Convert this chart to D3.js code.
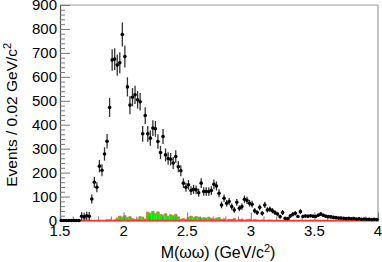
<!DOCTYPE html>
<html>
<head>
<meta charset="utf-8">
<script src="https://cdn.jsdelivr.net/npm/d3@7"></script>
<style>
  body { margin: 0; background: #fff; }
  svg { display: block; font-family: "Liberation Sans", Arial, sans-serif; }
</style>
</head>
<body>
<div id="chart"></div>
<script>
var width = 382, height = 262;
var padLeft = 60, padRight = 378, padTop = 5, padBottom = 220.5;

// bin centres: 1.51 .. 3.99 in steps of 0.02 (125 bins)
var binLow = 1.5, binWidth = 0.02;

// events per bin
var counts = [
  0, 0, 0, 0, 0, 0, 0, 0, 18, 15,
  20, 18, 90, 160, 139, 227, 210, 278, 331, 472,
  670, 674, 649, 659, 777, 685, 558, 482, 515, 525,
  504, 496, 362, 438, 362, 344, 386, 383, 330, 284,
  351, 274, 259, 256, 240, 267, 225, 208, 156, 139,
  149, 125, 130, 128, 116, 156, 121, 121, 121, 125,
  151, 144, 114, 65, 93, 72, 79, 58, 44, 76,
  51, 58, 89, 84, 72, 68, 41, 33, 55, 30,
  65, 44, 47, 41, 33, 27, 16, 33, 9, 8,
  19, 26, 30, 17, 37, 17, 19, 18, 20, 18,
  17, 22, 27, 22, 18, 16, 15, 13, 12, 10,
  10, 9, 8, 9, 7, 8, 6, 7, 5, 6,
  5, 5, 4, 5, 4
];

// error bar half-lengths
var errors = [
  0, 0, 0, 0, 0, 0, 0, 0, 17, 17,
  17, 17, 19, 23, 21, 26, 25, 28, 30, 40,
  45, 45, 44, 44, 50, 46, 40, 38, 38, 38,
  37, 37, 33, 35, 33, 32, 33, 33, 30, 28,
  31, 27, 26, 26, 25, 26, 24, 23, 20, 19,
  20, 18, 19, 18, 17, 20, 18, 18, 18, 18,
  20, 19, 17, 14, 16, 14, 15, 13, 12, 14,
  12, 13, 15, 15, 14, 14, 11, 10, 12, 10,
  13, 11, 11, 11, 10, 9, 8, 10, 6, 6,
  8, 9, 9, 7, 10, 7, 7, 7, 7, 7,
  7, 7, 8, 7, 7, 6, 6, 6, 6, 5,
  5, 5, 5, 5, 4, 5, 4, 4, 4, 4,
  4, 4, 3, 4, 3
];

// sideband background (green histogram)
var sideband = [
  0, 0, 0, 0, 0, 0, 0, 0, 0, 0,
  0, 0, 0, 0, 0, 0, 0, 0, 3, 3,
  0, 2, 10, 18, 14, 20, 12, 16, 8, 4,
  5, 16, 14, 6, 35, 30, 38, 28, 36, 25,
  22, 28, 18, 24, 20, 26, 15, 5, 8, 4,
  14, 18, 12, 16, 14, 10, 12, 10, 14, 8,
  6, 10, 12, 4, 7, 0, 5, 3, 8, 0,
  4, 6, 0, 3, 5, 0, 3, 2, 0, 2,
  0, 0, 2, 0, 0, 0, 0, 0, 0, 0,
  0, 0, 0, 0, 0, 0, 0, 0, 0, 0,
  0, 0, 0, 0, 0, 0, 0, 0, 0, 0,
  0, 0, 0, 0, 0, 0, 0, 0, 0, 0,
  0, 0, 0, 0, 0
];

var xTicks = [1.5, 2, 2.5, 3, 3.5, 4];
var yTicks = [0, 100, 200, 300, 400, 500, 600, 700, 800, 900];

var x = d3.scaleLinear().domain([1.5, 4]).range([padLeft, padRight]);
var y = d3.scaleLinear().domain([0, 900]).range([padBottom, padTop]);

var svg = d3.select("#chart").append("svg")
  .attr("width", width)
  .attr("height", height);

var data = counts.map(function(c, i){
  return {
    lo: binLow + i*binWidth,
    m: binLow + (i+0.5)*binWidth,
    v: c,
    e: errors[i],
    b: sideband[i]
  };
});

// green sideband histogram
svg.append("g").selectAll("rect")
  .data(data.filter(function(d){ return d.b > 0; }))
  .enter()
  .append("rect")
  .attr("x", function(d){ return x(d.lo); })
  .attr("width", function(d){ return x(d.lo + binWidth) - x(d.lo); })
  .attr("y", function(d){ return y(d.b); })
  .attr("height", function(d){ return y(0) - y(d.b); })
  .attr("fill", "#00ee00");

var step = d3.line()
  .x(function(d){ return x(d.m); })
  .y(function(d){ return y(d.b); })
  .curve(d3.curveStep);
svg.append("path")
  .datum(data)
  .attr("d", step)
  .attr("fill", "none")
  .attr("stroke", "#f06040")
  .attr("stroke-width", 0.8);

// frame
svg.append("line")
  .attr("x1", padLeft).attr("x2", padRight).attr("y1", padTop).attr("y2", padTop)
  .attr("stroke", "#999").attr("stroke-width", 1.2);
svg.append("line")
  .attr("x1", padRight).attr("x2", padRight).attr("y1", padTop).attr("y2", padBottom)
  .attr("stroke", "#999").attr("stroke-width", 1.2);

// y axis (ticks inward)
var yAxis = d3.axisRight(y).tickValues(d3.range(0, 901, 20)).tickSize(5).tickFormat("");
var gy = svg.append("g").attr("transform", "translate(" + padLeft + ",0)").call(yAxis);
gy.selectAll(".tick line")
  .attr("x2", function(d){ return d % 100 === 0 ? 10 : 5; })
  .attr("stroke", "#777");
gy.select(".domain").attr("stroke", "#555").attr("stroke-width", 1.2);

svg.append("g").selectAll("text")
  .data(yTicks)
  .enter()
  .append("text")
  .attr("x", padLeft - 3)
  .attr("y", function(d){ return y(d); })
  .attr("dy", "0.36em")
  .attr("text-anchor", "end")
  .attr("font-size", 15)
  .attr("fill", "#000")
  .text(function(d){ return d; });

// x axis (ticks inward)
var xAxis = d3.axisTop(x).tickValues(d3.range(15, 41).map(function(v){ return v/10; })).tickSize(4).tickFormat("");
var gx = svg.append("g").attr("transform", "translate(0," + padBottom + ")").call(xAxis);
gx.selectAll(".tick line")
  .attr("y2", function(d){ return Math.abs(d*2 - Math.round(d*2)) < 1e-6 ? -8 : -4; })
  .attr("stroke", "#777");
gx.select(".domain").attr("stroke", "#555").attr("stroke-width", 1.2);

svg.append("g").selectAll("text")
  .data(xTicks)
  .enter()
  .append("text")
  .attr("x", function(d){ return x(d); })
  .attr("y", 236)
  .attr("text-anchor", "middle")
  .attr("font-size", 15)
  .attr("fill", "#000")
  .text(function(d){ return d; });

// red fit line along zero
svg.append("line")
  .attr("x1", padLeft).attr("x2", padRight)
  .attr("y1", y(0.5)).attr("y2", y(0.5))
  .attr("stroke", "#ff3030").attr("stroke-width", 1.2);

// data points with error bars
var pts = svg.append("g");
pts.selectAll("line")
  .data(data.filter(function(d){ return d.e > 0; }))
  .enter()
  .append("line")
  .attr("x1", function(d){ return x(d.m); })
  .attr("x2", function(d){ return x(d.m); })
  .attr("y1", function(d){ return y(d.v + d.e); })
  .attr("y2", function(d){ return y(Math.max(0, d.v - d.e)); })
  .attr("stroke", "#333")
  .attr("stroke-width", 1.3);
pts.selectAll("circle")
  .data(data)
  .enter()
  .append("circle")
  .attr("cx", function(d){ return x(d.m); })
  .attr("cy", function(d){ return y(d.v); })
  .attr("r", 1.8)
  .attr("fill", "#000");

// axis titles
svg.append("text")
  .attr("transform", "translate(17," + ((padTop + padBottom)/2 + 2) + ") rotate(-90)")
  .attr("text-anchor", "middle")
  .attr("font-size", 15.5)
  .attr("fill", "#000")
  .html('Events / 0.02 GeV/c<tspan dy="-6" font-size="11">2</tspan>');

svg.append("text")
  .attr("x", 218)
  .attr("y", 258)
  .attr("text-anchor", "middle")
  .attr("font-size", 16)
  .attr("fill", "#000")
  .html('M(ωω) (GeV/c<tspan dy="-6" font-size="11">2</tspan><tspan dy="6">)</tspan>');
</script>
</body>
</html>
